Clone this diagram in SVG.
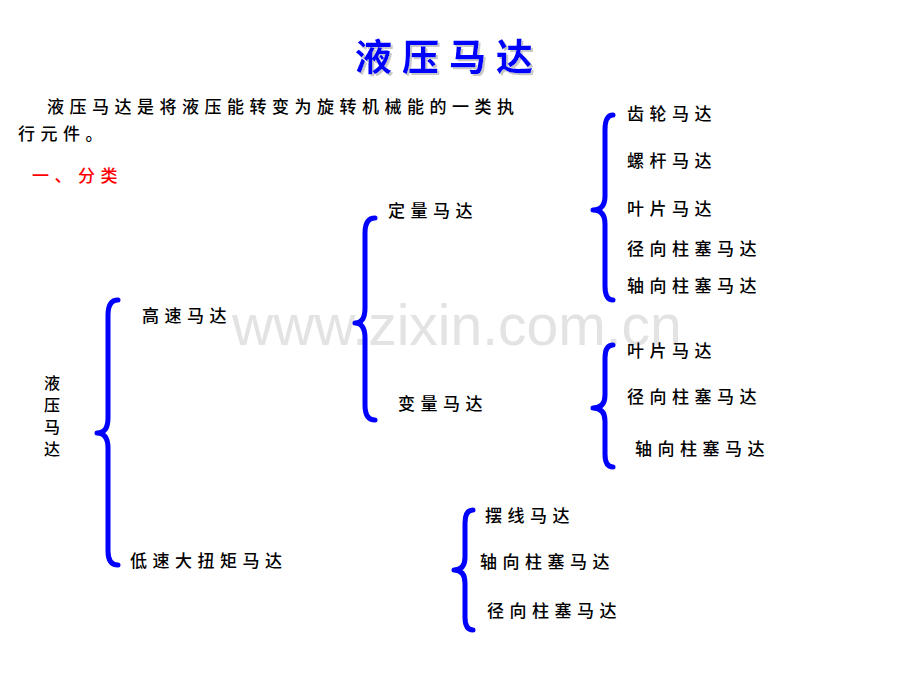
<svg xmlns="http://www.w3.org/2000/svg" width="920" height="690" viewBox="0 0 920 690">
<defs>
<filter id="shadow" x="-10%" y="-20%" width="130%" height="150%">
<feDropShadow dx="2" dy="2" stdDeviation="0.6" flood-color="#c8c8c8" flood-opacity="1"/>
</filter>
</defs>
<style>
.t{font-family:"Noto Sans CJK SC","Noto Sans",sans-serif;font-size:17px;fill:#000;letter-spacing:5.5px;font-weight:500}
.v{font-size:16px}
.r{fill:#ff0000}
.brace{fill:none;stroke:#0000ff;stroke-width:5;stroke-linecap:round;stroke-linejoin:round}
.wm{font-family:"Liberation Sans",Arial,sans-serif;font-size:57px;fill:#e3e3e3}
</style>
<rect width="920" height="690" fill="#fff"/>
<text class="wm" x="232" y="345">www.zixin.com.cn</text>
<g id="title">
<text x="355" y="71" filter="url(#shadow)" style="font-family:'Noto Sans CJK SC',sans-serif;font-size:37px;font-weight:bold;letter-spacing:10px;fill:#0000ff">液压马达</text>
</g>
<g id="intro">
<text class="t" x="47" y="113">液压马达是将液压能转变为旋转机械能的一类执</text>
<text class="t" x="18" y="140">行元件。</text>
</g>
<g id="heading">
<text class="t r" x="32" y="182">一、</text>
<text class="t r" x="78" y="182">分类</text>
</g>
<g id="connectors">
<path class="brace" d="M118,300 Q108,300 108,315 L108,418 Q108,433 97,433 Q108,433 108,448 L108,551 Q108,565 118,565"/>
<path class="brace" d="M375,218 Q365,218 365,233 L365,308 Q365,323 355,323 Q365,323 365,338 L365,405 Q365,420 375,420"/>
<path class="brace" d="M613,115 Q605,115 605,130 L605,196 Q605,210 593,210 Q605,210 605,224 L605,286 Q605,300 613,300"/>
<path class="brace" d="M613,345 Q605,345 605,358 L605,395 Q605,408 593,408 Q605,408 605,421 L605,454 Q605,467 613,467"/>
<path class="brace" d="M473,510 Q465,510 465,523 L465,557 Q465,570 454,570 Q465,570 465,583 L465,617 Q465,630 473,630"/>
</g>
<g id="root"><text class="t v" x="44" y="389">液</text><text class="t v" x="44" y="411">压</text><text class="t v" x="44" y="433">马</text><text class="t v" x="44" y="455">达</text></g>
<g id="high-speed"><text class="t" x="142" y="322">高速马达</text></g>
<g id="low-speed"><text class="t" x="130" y="567">低速大扭矩马达</text></g>
<g id="fixed"><text class="t" x="388" y="217">定量马达</text></g>
<g id="variable"><text class="t" x="398" y="410">变量马达</text></g>
<g id="fixed-gear"><text class="t" x="627" y="120">齿轮马达</text></g>
<g id="fixed-screw"><text class="t" x="627" y="167">螺杆马达</text></g>
<g id="fixed-vane"><text class="t" x="627" y="215">叶片马达</text></g>
<g id="fixed-radial"><text class="t" x="627" y="255">径向柱塞马达</text></g>
<g id="fixed-axial"><text class="t" x="627" y="292">轴向柱塞马达</text></g>
<g id="var-vane"><text class="t" x="627" y="357">叶片马达</text></g>
<g id="var-radial"><text class="t" x="627" y="403">径向柱塞马达</text></g>
<g id="var-axial"><text class="t" x="635" y="455">轴向柱塞马达</text></g>
<g id="low-cycloid"><text class="t" x="485" y="522">摆线马达</text></g>
<g id="low-axial"><text class="t" x="480" y="568">轴向柱塞马达</text></g>
<g id="low-radial"><text class="t" x="487" y="617">径向柱塞马达</text></g>
</svg>
